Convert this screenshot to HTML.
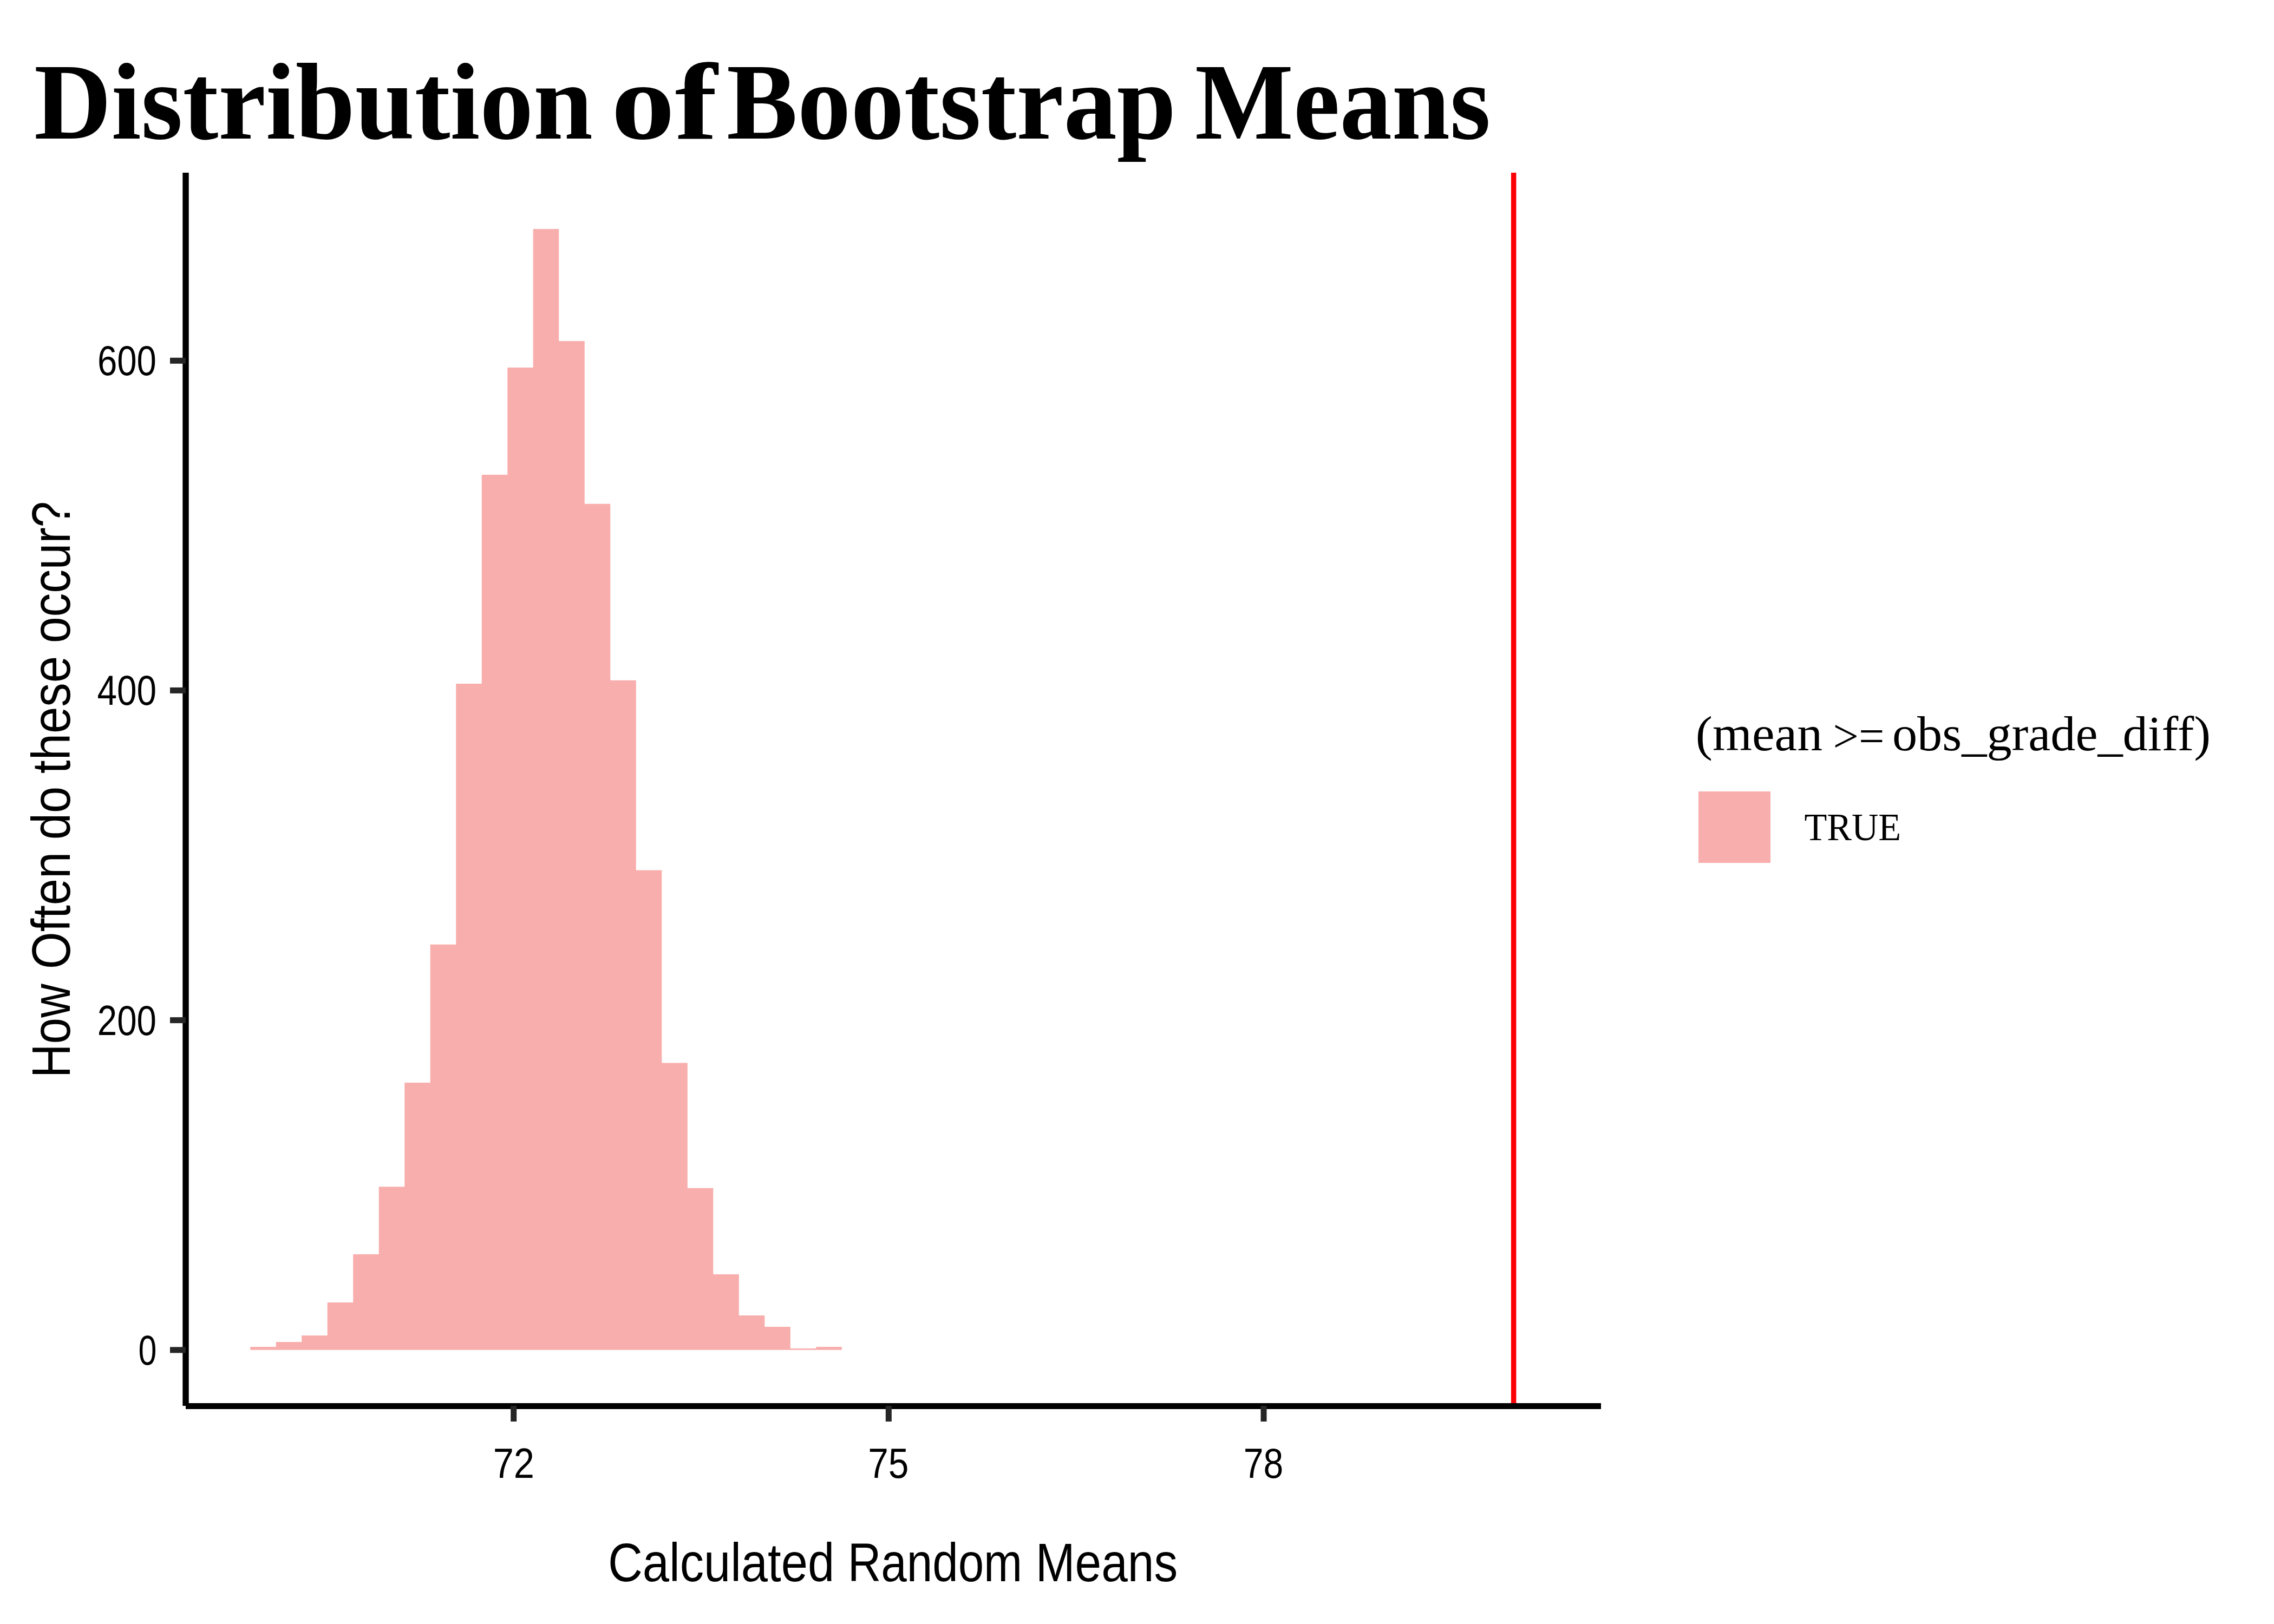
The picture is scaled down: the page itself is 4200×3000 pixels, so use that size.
<!DOCTYPE html>
<html><head><meta charset="utf-8">
<style>
html,body{margin:0;padding:0;background:#fff;}
body{width:4200px;height:3000px;overflow:hidden;}
svg{display:block;}
.sans{font-family:"Liberation Sans",sans-serif;}
.serif{font-family:"Liberation Serif",serif;}
</style></head><body>
<svg width="4200" height="3000" viewBox="0 0 4200 3000">
<rect x="0" y="0" width="4200" height="3000" fill="#fff"/>
<g fill="#F8AEAC">
<path d="M462.20 2493.80 L462.20 2487.90 L509.70 2487.90 L509.70 2479.00 L557.21 2479.00 L557.21 2467.00 L604.71 2467.00 L604.71 2405.90 L652.22 2405.90 L652.22 2317.00 L699.72 2317.00 L699.72 2192.20 L747.23 2192.20 L747.23 2000.00 L794.73 2000.00 L794.73 1744.80 L842.23 1744.80 L842.23 1262.90 L889.74 1262.90 L889.74 876.90 L937.24 876.90 L937.24 678.90 L984.75 678.90 L984.75 423.00 L1032.25 423.00 L1032.25 629.90 L1079.76 629.90 L1079.76 930.70 L1127.26 930.70 L1127.26 1256.80 L1174.77 1256.80 L1174.77 1607.60 L1222.27 1607.60 L1222.27 1963.40 L1269.77 1963.40 L1269.77 2194.80 L1317.28 2194.80 L1317.28 2354.05 L1364.78 2354.05 L1364.78 2429.90 L1412.29 2429.90 L1412.29 2450.90 L1459.79 2450.90 L1459.79 2491.00 L1507.30 2491.00 L1507.30 2487.90 L1554.80 2487.90 L1554.80 2493.80 Z"/>
</g>
<rect x="2790.9" y="319" width="9.5" height="2278" fill="#FC0004"/>
<rect x="337.3" y="319" width="11.4" height="2278" fill="#000"/>
<rect x="343" y="2592" width="2614" height="11" fill="#000"/>
<g fill="#262626">
<rect x="314" y="660.8" width="29" height="11"/>
<rect x="314" y="1269.9" width="29" height="11"/>
<rect x="314" y="1879.1" width="29" height="11"/>
<rect x="314" y="2488.3" width="29" height="11"/>
<rect x="943.2" y="2597" width="11" height="29"/>
<rect x="1635.8" y="2597" width="11" height="29"/>
<rect x="2328.5" y="2597" width="11" height="29"/>
</g>
<g fill="#000">
<text class="serif" font-size="202" font-weight="bold" x="62.98" y="255.5" textLength="1032.04" lengthAdjust="spacingAndGlyphs">Distribution</text>
<text class="serif" font-size="202" font-weight="bold" x="1128.69" y="255.5" textLength="196.24" lengthAdjust="spacingAndGlyphs">of</text>
<text class="serif" font-size="202" font-weight="bold" x="1341.96" y="255.5" textLength="830.15" lengthAdjust="spacingAndGlyphs">Bootstrap</text>
<text class="serif" font-size="202" font-weight="bold" x="2206.96" y="255.5" textLength="546.11" lengthAdjust="spacingAndGlyphs">Means</text>
<text class="sans" font-size="77" x="179.89" y="693.2" textLength="109.08" lengthAdjust="spacingAndGlyphs">600</text>
<text class="sans" font-size="77" x="179.43" y="1302.3" textLength="109.48" lengthAdjust="spacingAndGlyphs">400</text>
<text class="sans" font-size="77" x="179.84" y="1911.5" textLength="109.11" lengthAdjust="spacingAndGlyphs">200</text>
<text class="sans" font-size="77" x="255.38" y="2520.7" textLength="33.87" lengthAdjust="spacingAndGlyphs">0</text>
<text class="sans" font-size="77" x="910.71" y="2730.0" textLength="76.26" lengthAdjust="spacingAndGlyphs">72</text>
<text class="sans" font-size="77" x="1603.27" y="2730.0" textLength="75.20" lengthAdjust="spacingAndGlyphs">75</text>
<text class="sans" font-size="77" x="2296.77" y="2730.0" textLength="73.50" lengthAdjust="spacingAndGlyphs">78</text>
<text class="sans" font-size="101" x="1122.88" y="2920.7" textLength="418.25" lengthAdjust="spacingAndGlyphs">Calculated</text>
<text class="sans" font-size="101" x="1565.71" y="2920.7" textLength="322.48" lengthAdjust="spacingAndGlyphs">Random</text>
<text class="sans" font-size="101" x="1912.72" y="2920.7" textLength="262.42" lengthAdjust="spacingAndGlyphs">Means</text>
<text class="sans" font-size="101" transform="translate(128.9,0) rotate(-90)" x="-1991.31" y="0" textLength="174.31" lengthAdjust="spacingAndGlyphs">How</text>
<text class="sans" font-size="101" transform="translate(128.9,0) rotate(-90)" x="-1790.20" y="0" textLength="216.52" lengthAdjust="spacingAndGlyphs">Often</text>
<text class="sans" font-size="101" transform="translate(128.9,0) rotate(-90)" x="-1551.29" y="0" textLength="98.60" lengthAdjust="spacingAndGlyphs">do</text>
<text class="sans" font-size="101" transform="translate(128.9,0) rotate(-90)" x="-1429.02" y="0" textLength="217.13" lengthAdjust="spacingAndGlyphs">these</text>
<text class="sans" font-size="101" transform="translate(128.9,0) rotate(-90)" x="-1188.09" y="0" textLength="262.20" lengthAdjust="spacingAndGlyphs">occur?</text>
<text class="serif" font-size="92" x="3131.89" y="1386.4" textLength="234.14" lengthAdjust="spacingAndGlyphs">(mean</text>
<text class="serif" font-size="86" x="3385.59" y="1389.4" textLength="94.83" lengthAdjust="spacingAndGlyphs">&gt;=</text>
<text class="serif" font-size="92" x="3494.95" y="1386.4" textLength="588.10" lengthAdjust="spacingAndGlyphs">obs_grade_diff)</text>
<text class="serif" font-size="72" x="3332.45" y="1551.7" textLength="178.75" lengthAdjust="spacingAndGlyphs">TRUE</text>
</g>
<rect x="3137" y="1462" width="133" height="132" fill="#F8AEAC"/>
</svg>
</body></html>
